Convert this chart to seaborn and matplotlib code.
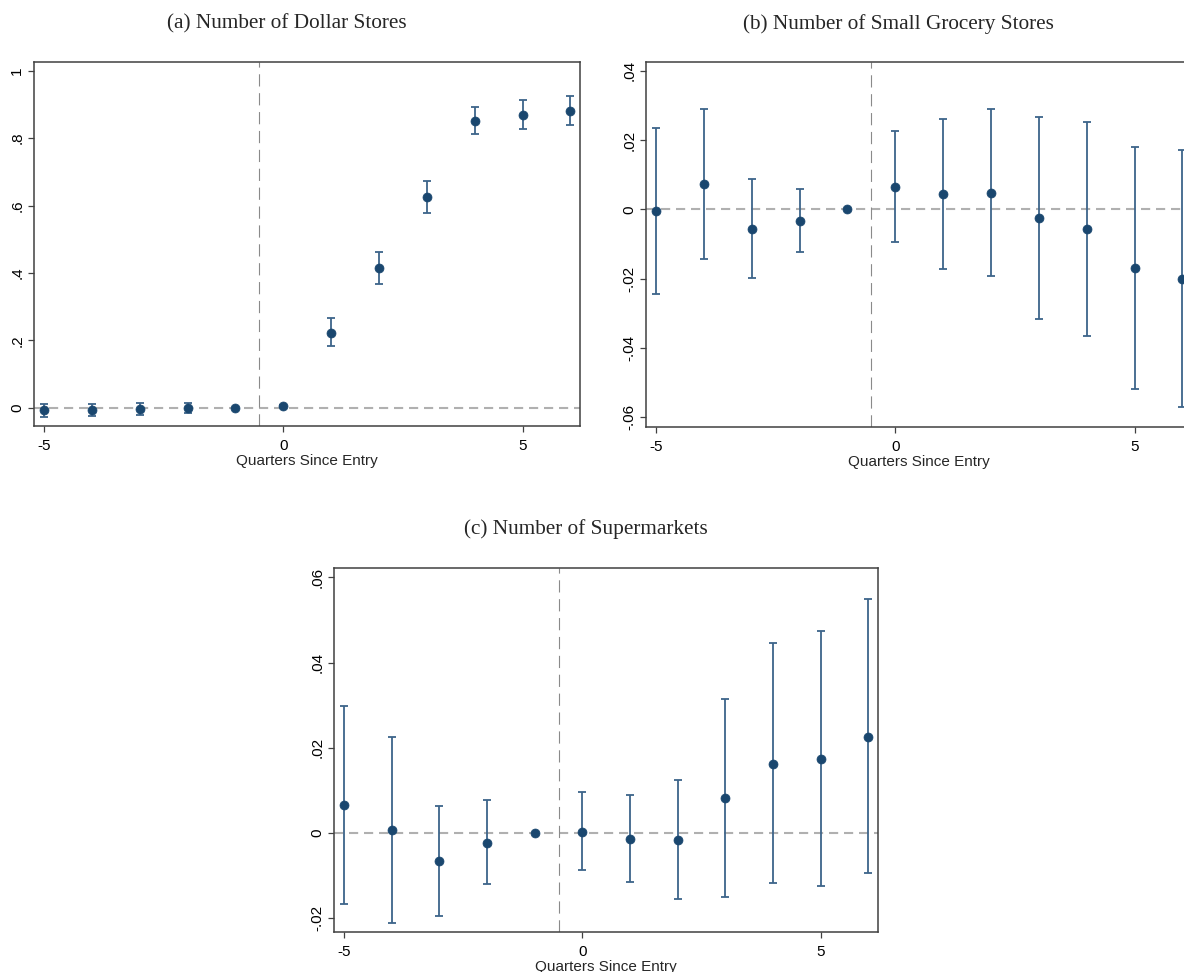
import numpy as np
import pandas as pd
import matplotlib
matplotlib.use("Agg")
import matplotlib.pyplot as plt
import seaborn as sns

# ---------------- data ----------------
quarters = [-5, -4, -3, -2, -1, 0, 1, 2, 3, 4, 5, 6]

dollar_coef = [-0.008, -0.006, -0.004, -0.001, 0.0, 0.004, 0.223, 0.415, 0.625, 0.852, 0.870, 0.881]
dollar_lo = [-0.026, -0.023, -0.020, -0.015, np.nan, 0.001, 0.183, 0.368, 0.579, 0.812, 0.827, 0.838]
dollar_hi = [0.010, 0.012, 0.013, 0.013, np.nan, 0.007, 0.266, 0.463, 0.673, 0.891, 0.912, 0.924]

grocery_coef = [-0.0005, 0.0072, -0.0057, -0.0033, 0.0, 0.0065, 0.0043, 0.0048, -0.0026, -0.0058, -0.0169, -0.0200]
grocery_lo = [-0.0244, -0.0142, -0.0199, -0.0124, np.nan, -0.0094, -0.0173, -0.0192, -0.0317, -0.0365, -0.0517, -0.0569]
grocery_hi = [0.0235, 0.0288, 0.0087, 0.0060, np.nan, 0.0225, 0.0261, 0.0289, 0.0267, 0.0252, 0.0181, 0.0171]

super_coef = [0.0066, 0.0006, -0.0066, -0.0023, 0.0, 0.0003, -0.0014, -0.0016, 0.0081, 0.0162, 0.0173, 0.0226]
super_lo = [-0.0167, -0.0211, -0.0195, -0.0121, np.nan, -0.0088, -0.0116, -0.0155, -0.0151, -0.0118, -0.0126, -0.0095]
super_hi = [0.0299, 0.0224, 0.0064, 0.0076, np.nan, 0.0097, 0.0089, 0.0124, 0.0314, 0.0445, 0.0475, 0.0549]

titles = ["(a) Number of Dollar Stores", "(b) Number of Small Grocery Stores", "(c) Number of Supermarkets"]
xlabel = "Quarters Since Entry"
x_ticks = [-5, 0, 5]
ticks_a = [0, 0.2, 0.4, 0.6, 0.8, 1.0]
labels_a = ["0", ".2", ".4", ".6", ".8", "1"]
ticks_b = [-0.06, -0.04, -0.02, 0, 0.02, 0.04]
labels_b = ["-.06", "-.04", "-.02", "0", ".02", ".04"]
ticks_c = [-0.02, 0, 0.02, 0.04, 0.06]
labels_c = ["-.02", "0", ".02", ".04", ".06"]

# ---------------- style ----------------
sns.set_style("ticks")
plt.rcParams['font.family'] = ['Liberation Sans', 'DejaVu Sans']

W, H = 1184, 972
fig = plt.figure(figsize=(W / 100, H / 100), dpi=100)

MARKER = "#1a476f"
BAR = "#3d648a"
FRAME = "#404040"


def px_axes(left, top, right, bottom):
    return fig.add_axes([left / W, 1 - bottom / H, (right - left) / W, (bottom - top) / H])


def panel(ax, coef, lo, hi, ylim, yticks, ylabels):
    df = pd.DataFrame({"q": quarters, "coef": coef, "lo": lo, "hi": hi})
    ax.axhline(0, color="#b0b0b0", lw=1.5, ls=(0, (4.4, 2.8)), zorder=1)
    ax.axvline(-0.5, color="#8a8a8a", lw=0.8, ls=(0, (11, 6)), zorder=1)
    ci = df.dropna()
    ax.errorbar(ci["q"], ci["coef"],
                yerr=[ci["coef"] - ci["lo"], ci["hi"] - ci["coef"]],
                fmt="none", ecolor=BAR, elinewidth=1.3, capsize=2.9, capthick=1.3, zorder=2)
    sns.scatterplot(data=df, x="q", y="coef", ax=ax, color=MARKER, s=42,
                    edgecolor=MARKER, linewidth=0.5, zorder=3, legend=False)
    ax.set_xlim(-5.21, 6.2)
    ax.set_ylim(*ylim)
    ax.set_xticks(x_ticks)
    ax.set_xticklabels([str(t) for t in x_ticks])
    ax.set_yticks(yticks)
    ax.set_yticklabels(ylabels, rotation=90, va="center")
    ax.tick_params(axis="both", direction="out", length=4, width=0.9, color=FRAME,
                   labelsize=11, labelcolor="black", pad=3)
    ax.tick_params(axis="x", pad=5)
    ax.set_xlabel(xlabel, fontsize=11, labelpad=1)
    ax.set_ylabel("")
    for s in ax.spines.values():
        s.set_color(FRAME)
        s.set_linewidth(1.1)
        s.set_visible(True)


ax_a = px_axes(34, 62, 580, 426)
panel(ax_a, dollar_coef, dollar_lo, dollar_hi, (-0.054, 1.026), ticks_a, labels_a)

ax_b = px_axes(646, 62, 1192, 427)
panel(ax_b, grocery_coef, grocery_lo, grocery_hi, (-0.0628, 0.0425), ticks_b, labels_b)

ax_c = px_axes(334, 568, 878, 932)
panel(ax_c, super_coef, super_lo, super_hi, (-0.0233, 0.0622), ticks_c, labels_c)

serif = ['Liberation Serif', 'DejaVu Serif']
fig.text(287 / W, 1 - 24 / H, titles[0], ha="center", va="center", fontsize=15.3, family=serif)
fig.text(898 / W, 1 - 24 / H, titles[1], ha="center", va="center", fontsize=15.3, family=serif)
fig.text(586 / W, 1 - 529 / H, titles[2], ha="center", va="center", fontsize=15.3, family=serif)

fig.savefig("out.png", dpi=100)
